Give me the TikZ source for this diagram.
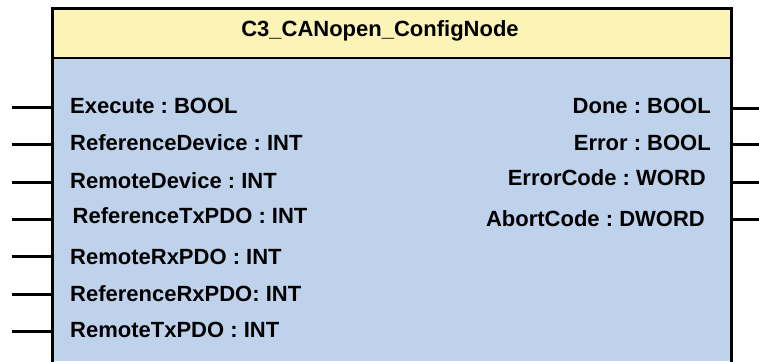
\documentclass[tikz,border=0pt]{standalone}
\usepackage{fontspec}
\setmainfont{Liberation Sans}
\usepackage{xcolor}
\definecolor{headyellow}{HTML}{FCF4B6}
\definecolor{bodyblue}{HTML}{BED2EB}
\frenchspacing

\begin{document}
\begin{tikzpicture}[x=1pt, y=-1pt,
  every node/.style={font=\fontsize{22}{24}\selectfont\bfseries, inner sep=0pt, text height=15pt, text depth=0pt},
  pin/.style={draw=black, line width=3pt},
  port/.style={anchor=west},
  outport/.style={anchor=east}]
  \useasboundingbox (0,0) rectangle (759,361);
  % block body and header
  \fill[bodyblue] (52,58) rectangle (731,361);
  \fill[headyellow] (52,9) rectangle (731,58);
  \draw[line width=3pt] (52,362) -- (52,9) -- (731,9) -- (731,362);
  \draw[line width=2.6pt] (52,58) -- (731,58);
  \node (title) at (380,29.5) {C3\_CANopen\_ConfigNode};
  % inputs
  \foreach \py/\ty/\tx/\lbl [count=\i] in {
      107/106/70/Execute : BOOL,
      144/143/70/ReferenceDevice : INT,
      182/181/70/RemoteDevice : INT,
      219/216/72.5/ReferenceTxPDO : INT,
      256/257/70/RemoteRxPDO : INT,
      294/294/70/ReferenceRxPDO: INT,
      331.5/330/70/RemoteTxPDO : INT} {
    \coordinate (in\i) at (52,\py);
    \coordinate (in\i e) at (12,\py);
    \node[port] (inlbl\i) at (\tx,\ty) {\lbl};
    \draw[pin] (in\i e) -- (in\i);
  }
  % outputs
  \foreach \py/\ty/\tx/\lbl [count=\i] in {
      108/105.5/711/Done : BOOL,
      144/142.5/711/Error : BOOL,
      182/178/706/ErrorCode : WORD,
      219/219/705/AbortCode : DWORD} {
    \coordinate (out\i) at (731,\py);
    \coordinate (out\i e) at (759,\py);
    \node[outport] (outlbl\i) at (\tx,\ty) {\lbl};
    \draw[pin] (out\i) -- (out\i e);
  }
\end{tikzpicture}
\end{document}
